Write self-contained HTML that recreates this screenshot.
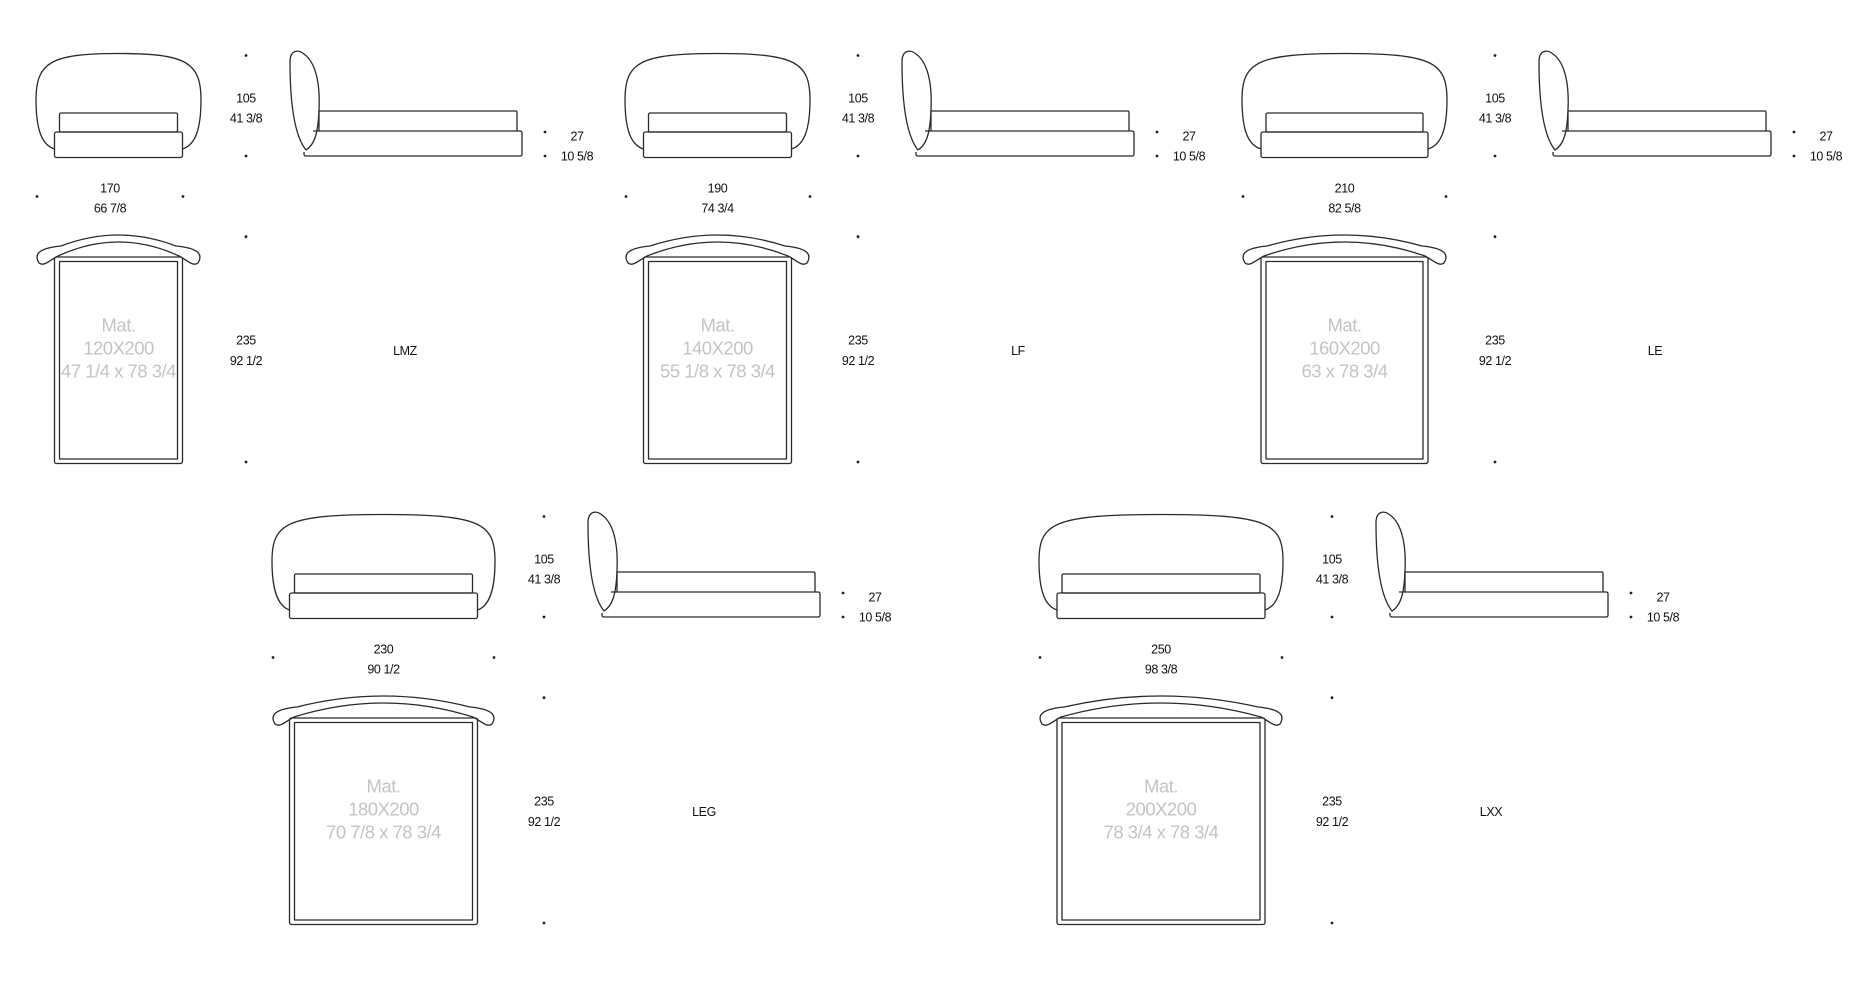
<!DOCTYPE html>
<html><head><meta charset="utf-8"><style>
html,body{margin:0;padding:0;background:#fff;}
svg{display:block;}
.l{fill:none;stroke:#2a2a2a;stroke-width:1.3;stroke-linejoin:round;}
.d{font-family:"Liberation Sans",sans-serif;font-size:12.5px;fill:#111;text-anchor:middle;letter-spacing:-0.4px;}
.m{font-family:"Liberation Sans",sans-serif;font-size:18.5px;fill:#c4c4c4;text-anchor:middle;letter-spacing:-0.5px;}
.c{fill:#222;}
</style></head><body>
<svg width="1876" height="982" viewBox="0 0 1876 982" xmlns="http://www.w3.org/2000/svg">
<defs>
<g id="side">
<path class="l" d="M60,150 C48,135 44,100 44,62 C44,50 52,49 58,54 C72,64 74,90 73,110 C72,135 68,145 60,150 Z"/>
<path class="l" d="M73,131 L73,111 L270,111 Q271,111 271,113 L271,131"/>
<path class="l" d="M67,131 L274,131 Q276,131 276,133 L276,154 Q276,156 274,156 L60,156 Q58,156 58,154 L58,152"/>
<circle class="c" cx="0" cy="55.5" r="1.4"/>
<circle class="c" cx="0" cy="156" r="1.4"/>
<text class="d" x="0" y="102.5">105</text>
<text class="d" x="0" y="122.5">41 3/8</text>
<circle class="c" cx="299" cy="132" r="1.4"/>
<circle class="c" cx="299" cy="156" r="1.4"/>
<text class="d" x="331" y="140.5">27</text>
<text class="d" x="331" y="160.5">10 5/8</text>
<circle class="c" cx="0" cy="236.7" r="1.4"/>
<circle class="c" cx="0" cy="462" r="1.4"/>
<text class="d" x="0" y="344.5">235</text>
<text class="d" x="0" y="365">92 1/2</text>
</g>
</defs>

<!-- Unit 1 LMZ -->
<g transform="translate(36,0)">
<path class="l" d="M18.5,149 C6,145 0,130 0,100 C0,62 15,53.5 82.5,53.5 C150,53.5 165,62 165,100 C165,130 159,145 146.5,149"/>
<rect class="l" x="23.5" y="113" width="118" height="19" rx="1.5"/>
<rect class="l" x="18.5" y="132" width="128" height="25.5" rx="2"/>
<circle class="c" cx="1" cy="196.5" r="1.4"/><circle class="c" cx="147" cy="196.5" r="1.4"/>
<text class="d" x="74" y="192.5">170</text><text class="d" x="74" y="212.5">66 7/8</text>
<path class="l" d="M3,263 C-3,253 5,248 25,246 Q82.5,224 140,246 C160,248 168,253 162,263 C157,267 151,260 143,256 Q82.5,228 22,256 C14,260 8,267 3,263 Z"/>
<rect class="l" x="18.5" y="257" width="128" height="206.5" rx="2"/>
<rect class="l" x="23.5" y="261.5" width="118" height="197.5"/>
<text class="m" x="82.5" y="331.5">Mat.</text><text class="m" x="82.5" y="354.5">120X200</text><text class="m" x="82.5" y="377.5">47 1/4 x 78 3/4</text>
</g>
<use href="#side" transform="translate(246,0)"/>
<text class="d" x="405" y="355">LMZ</text>

<!-- Unit 2 LF -->
<g transform="translate(625,0)">
<path class="l" d="M18.5,149 C6,145 0,130 0,100 C0,62 15,53.5 92.5,53.5 C170,53.5 185,62 185,100 C185,130 179,145 166.5,149"/>
<rect class="l" x="23.5" y="113" width="138" height="19" rx="1.5"/>
<rect class="l" x="18.5" y="132" width="148" height="25.5" rx="2"/>
<circle class="c" cx="1" cy="196.5" r="1.4"/><circle class="c" cx="185" cy="196.5" r="1.4"/>
<text class="d" x="92.5" y="192.5">190</text><text class="d" x="92.5" y="212.5">74 3/4</text>
<path class="l" d="M3,263 C-3,253 5,248 25,246 Q92.5,224 160,246 C180,248 188,253 182,263 C177,267 171,260 163,256 Q92.5,228 22,256 C14,260 8,267 3,263 Z"/>
<rect class="l" x="18.5" y="257" width="148" height="206.5" rx="2"/>
<rect class="l" x="23.5" y="261.5" width="138" height="197.5"/>
<text class="m" x="92.5" y="331.5">Mat.</text><text class="m" x="92.5" y="354.5">140X200</text><text class="m" x="92.5" y="377.5">55 1/8 x 78 3/4</text>
</g>
<use href="#side" transform="translate(858,0)"/>
<text class="d" x="1018" y="355">LF</text>

<!-- Unit 3 LE -->
<g transform="translate(1242,0)">
<path class="l" d="M19,149 C6,145 0,130 0,100 C0,62 15,53.5 102.5,53.5 C190,53.5 205,62 205,100 C205,130 199,145 186,149"/>
<rect class="l" x="24" y="113" width="157" height="19" rx="1.5"/>
<rect class="l" x="19" y="132" width="167" height="25.5" rx="2"/>
<circle class="c" cx="1" cy="196.5" r="1.4"/><circle class="c" cx="204" cy="196.5" r="1.4"/>
<text class="d" x="102.5" y="192.5">210</text><text class="d" x="102.5" y="212.5">82 5/8</text>
<path class="l" d="M3,263 C-3,253 5,248 25,246 Q102.5,224 180,246 C200,248 208,253 202,263 C197,267 191,260 183,256 Q102.5,228 22,256 C14,260 8,267 3,263 Z"/>
<rect class="l" x="19" y="257" width="167" height="206.5" rx="2"/>
<rect class="l" x="24" y="261.5" width="157" height="197.5"/>
<text class="m" x="102.5" y="331.5">Mat.</text><text class="m" x="102.5" y="354.5">160X200</text><text class="m" x="102.5" y="377.5">63 x 78 3/4</text>
</g>
<use href="#side" transform="translate(1495,0)"/>
<text class="d" x="1655" y="355">LE</text>

<!-- Unit 4 LEG -->
<g transform="translate(272,461)">
<path class="l" d="M17.5,149 C6,145 0,130 0,100 C0,62 15,53.5 111.5,53.5 C208,53.5 223,62 223,100 C223,130 217,145 205.5,149"/>
<rect class="l" x="22.5" y="113" width="178" height="19" rx="1.5"/>
<rect class="l" x="17.5" y="132" width="188" height="25.5" rx="2"/>
<circle class="c" cx="1" cy="196.5" r="1.4"/><circle class="c" cx="222" cy="196.5" r="1.4"/>
<text class="d" x="111.5" y="192.5">230</text><text class="d" x="111.5" y="212.5">90 1/2</text>
<path class="l" d="M3,263 C-3,253 5,248 25,246 Q111.5,224 198,246 C218,248 226,253 220,263 C215,267 209,260 201,256 Q111.5,228 22,256 C14,260 8,267 3,263 Z"/>
<rect class="l" x="17.5" y="257" width="188" height="206.5" rx="2"/>
<rect class="l" x="22.5" y="261.5" width="178" height="197.5"/>
<text class="m" x="111.5" y="331.5">Mat.</text><text class="m" x="111.5" y="354.5">180X200</text><text class="m" x="111.5" y="377.5">70 7/8 x 78 3/4</text>
</g>
<use href="#side" transform="translate(544,461)"/>
<text class="d" x="704" y="816">LEG</text>

<!-- Unit 5 LXX -->
<g transform="translate(1039,461)">
<path class="l" d="M18,149 C6,145 0,130 0,100 C0,62 15,53.5 122,53.5 C229,53.5 244,62 244,100 C244,130 238,145 226,149"/>
<rect class="l" x="23" y="113" width="198" height="19" rx="1.5"/>
<rect class="l" x="18" y="132" width="208" height="25.5" rx="2"/>
<circle class="c" cx="1" cy="196.5" r="1.4"/><circle class="c" cx="243" cy="196.5" r="1.4"/>
<text class="d" x="122" y="192.5">250</text><text class="d" x="122" y="212.5">98 3/8</text>
<path class="l" d="M3,263 C-3,253 5,248 25,246 Q122,224 219,246 C239,248 247,253 241,263 C236,267 230,260 222,256 Q122,228 22,256 C14,260 8,267 3,263 Z"/>
<rect class="l" x="18" y="257" width="208" height="206.5" rx="2"/>
<rect class="l" x="23" y="261.5" width="198" height="197.5"/>
<text class="m" x="122" y="331.5">Mat.</text><text class="m" x="122" y="354.5">200X200</text><text class="m" x="122" y="377.5">78 3/4 x 78 3/4</text>
</g>
<use href="#side" transform="translate(1332,461)"/>
<text class="d" x="1491" y="816">LXX</text>
</svg>
</body></html>
